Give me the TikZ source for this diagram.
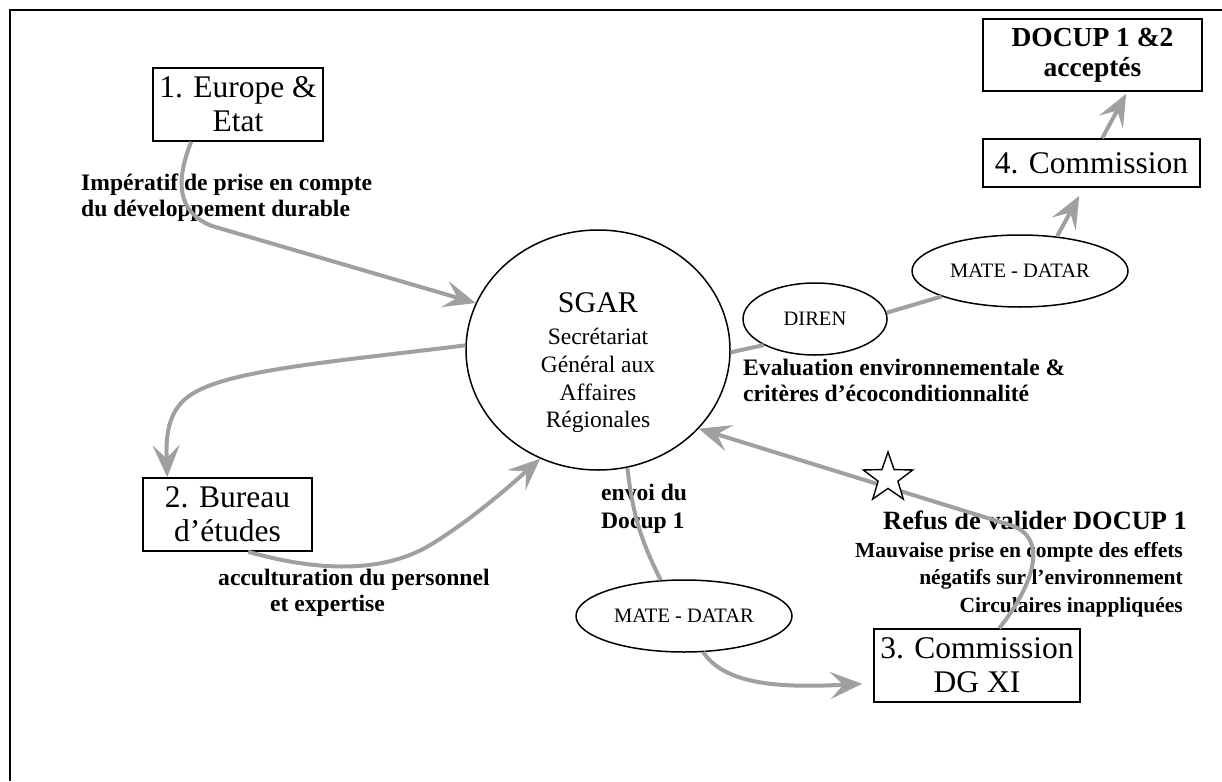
\documentclass[tikz,border=0pt]{standalone}
\usepackage{fontspec}
\setmainfont{Liberation Serif}
\usetikzlibrary{arrows.meta,shapes.geometric}
\definecolor{arrgray}{RGB}{160,160,160}
\begin{document}
\begin{tikzpicture}[x=1pt,y=-1pt,
  box/.style={draw, line width=1.6pt, inner sep=2pt, align=center, font=\fontsize{31.5}{34}\selectfont},
  oval/.style={draw, ellipse, line width=1.5pt, inner sep=0pt, minimum width=216pt, minimum height=72pt, font=\fontsize{20.5}{24}\selectfont},
  lbl/.style={inner sep=0pt, font=\fontsize{23.6}{26}\selectfont\bfseries},
  arr/.style={draw=arrgray, line width=4pt, -{Stealth[length=32pt,width=27pt,inset=13pt]}},
  conn/.style={draw=arrgray, line width=4pt},
  starmark/.style={star, star points=5, star point ratio=2.5, draw, fill=white, line width=1.4pt, minimum size=52pt, inner sep=0pt}
]
\useasboundingbox (0,0) rectangle (1222,781);
% frame
\draw[line width=2pt] (10,781) -- (10,10.5) -- (1222,10.5);

% boxes
\node[box, minimum width=170pt, minimum height=73pt] (eu) at (238,104.5) {1. Europe \&\\Etat};
\node[box, minimum width=169pt, minimum height=73pt] (bur) at (227.5,514.5) {2. Bureau\\d’études};
\node[box, minimum width=206pt, minimum height=73pt] (c3) at (977,665.5) {3. Commission\\DG XI};
\node[box, minimum width=217pt, minimum height=48pt] (c4) at (1091.5,163) {4. Commission};
\node[box, minimum width=219pt, minimum height=72pt, font=\fontsize{27.5}{30}\selectfont\bfseries] (docup) at (1092.5,55) {DOCUP 1 \&2\\acceptés};

% SGAR
\node[draw, ellipse, line width=1.5pt, minimum width=264pt, minimum height=240pt, inner sep=0pt] (sgar) at (598,350) {};
\node[anchor=north, align=center, inner sep=0pt, font=\fontsize{23.5}{27.7}\selectfont] (sgartxt) at (598,292)
  {{\fontsize{30}{33}\selectfont SGAR}\\[5pt]Secrétariat\\Général aux\\Affaires\\Régionales};

% ovals
\node[oval, minimum width=144pt] (diren) at (815,319) {DIREN};
\node[oval] (mate1) at (1020,271) {MATE - DATAR};
\node[oval] (mate2) at (684,616) {MATE - DATAR};

% labels
\node[lbl, anchor=north west, align=left] (imp) at (81,174) {Impératif de prise en compte\\du développement durable};
\node[lbl, anchor=north west, align=left] (eval) at (743,359) {Evaluation environnementale \&\\critères d’écoconditionnalité};
\node[lbl, anchor=north west, align=left] (acc) at (218,569) {acculturation du personnel\\\hspace*{52pt}et expertise};
\node[lbl, anchor=north west, align=left, font=\fontsize{23.6}{28}\selectfont\bfseries] (envoi) at (601,484) {envoi du\\Docup 1};
\node[lbl, anchor=base east, font=\fontsize{26.4}{30}\selectfont\bfseries] (refus) at (1187,529) {Refus de valider DOCUP 1};
\node[lbl, anchor=north east, align=right, font=\fontsize{21.5}{27.5}\selectfont\bfseries] (mauv) at (1183,542)
  {Mauvaise prise en compte des effets\\négatifs sur l’environnement\\Circulaires inappliquées};

% connectors
\draw[arr] ([xshift=39pt]eu.south west) .. controls (176,180) and (176,212) .. (212,226) -- (sgar.159);
\draw[arr] (sgar.178) .. controls (330,362) and (230,370) .. (192,394) .. controls (166,410) and (166,440) .. ([xshift=25pt]bur.north west);
\draw[arr] ([xshift=106pt]bur.south west) .. controls (320,572) and (380,572) .. (425,548) .. controls (460,528) and (500,495) .. (sgar.242);
\draw[conn] (sgar.-1) -- (diren.207);
\draw[conn] (diren.5) -- (mate1.198);
\draw[arr] (mate1.43) -- ([xshift=97pt,yshift=-8pt]c4.south west);
\draw[arr] ([xshift=120pt]c4.north west) -- ([xshift=144pt,yshift=-2pt]docup.south west);
\draw[conn] (sgar.284) to[bend right=10] (mate2.123);
\draw[arr] (mate2.298) .. controls (725,685) and (780,688) .. ([xshift=-11pt,yshift=19pt]c3.south west);
\draw[arr] ([xshift=126pt]c3.north west) .. controls (1030,590) and (1052,538) .. (1010,525) -- (sgar.322);

% star
\node[starmark] (star) at (888,478) {};
\end{tikzpicture}
\end{document}
